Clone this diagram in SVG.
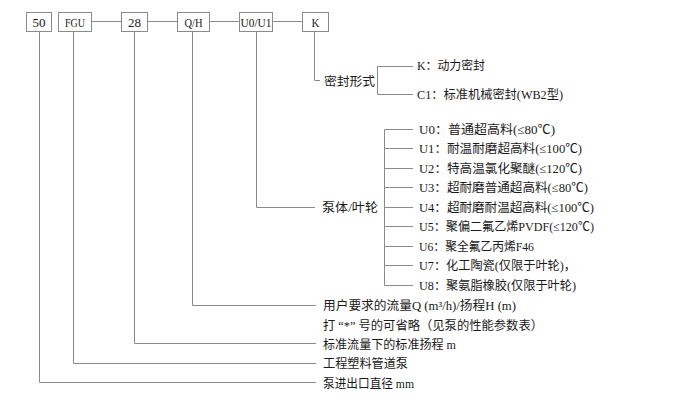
<svg xmlns="http://www.w3.org/2000/svg" width="698" height="405" viewBox="0 0 698 405">
<style>
.bx rect{fill:#fff;stroke:#8a8a8a;stroke-width:1}
text{font-family:"Liberation Serif","Noto Sans CJK SC",serif;font-size:12.5px;fill:#1a1a1a}
.bx text{font-size:13.5px}
.c{text-anchor:middle}
.ln{fill:none;stroke:#8a8a8a;stroke-width:1}
</style>
<rect width="698" height="405" fill="#fff"/>
<g id="connectors" class="ln">
<path d="M91.5 21.5H121.5M147.5 21.5H177.5M209.5 21.5H239.5M272.5 21.5H302.5"/>
<path d="M39.5 31.5V382.5H316"/>
<path d="M73.5 31.5V363.5H316"/>
<path d="M134.5 31.5V343.5H316"/>
<path d="M192.5 31.5V305.5H316"/>
<path d="M256.5 31.5V207.5H315"/>
<path d="M314.5 31.5V80.5H320"/>
<path d="M413 66.5H377.5V94.5H413"/>
<path d="M413 129.5H384.5V285.5H413M384.5 148.5H413M384.5 168.5H413M384.5 187.5H413M384.5 207.5H413M384.5 226.5H413M384.5 246.5H413M384.5 265.5H413"/>
</g>
<g id="n50" class="bx"><rect x="26.5" y="12.5" width="25" height="19"/><text class="c" x="39" y="26.5" textLength="13" lengthAdjust="spacingAndGlyphs">50</text></g>
<g id="nFGU" class="bx"><rect x="58.5" y="12.5" width="33" height="19"/><text class="c" x="75" y="26.5" textLength="20" lengthAdjust="spacingAndGlyphs">FGU</text></g>
<g id="n28" class="bx"><rect x="121.5" y="12.5" width="26" height="19"/><text class="c" x="134.5" y="26.5" textLength="13" lengthAdjust="spacingAndGlyphs">28</text></g>
<g id="nQH" class="bx"><rect x="177.5" y="12.5" width="32" height="19"/><text class="c" x="193.5" y="26.5" textLength="18" lengthAdjust="spacingAndGlyphs">Q/H</text></g>
<g id="nU0U1" class="bx"><rect x="239.5" y="12.5" width="33" height="19"/><text class="c" x="256" y="26.5" textLength="31" lengthAdjust="spacingAndGlyphs">U0/U1</text></g>
<g id="nK" class="bx"><rect x="302.5" y="12.5" width="26" height="19"/><text class="c" x="315.5" y="26.5" textLength="8" lengthAdjust="spacingAndGlyphs">K</text></g>
<g id="seal">
<text x="324" y="85.5" textLength="51" lengthAdjust="spacingAndGlyphs">密封形式</text>
<text x="417" y="70" textLength="68" lengthAdjust="spacingAndGlyphs">K：动力密封</text>
<text x="417" y="98.5" textLength="146" lengthAdjust="spacingAndGlyphs">C1：标准机械密封(WB2型)</text>
</g>
<g id="material">
<text x="322" y="212" textLength="56" lengthAdjust="spacingAndGlyphs">泵体/叶轮</text>
<text x="419" y="133.5" textLength="136" lengthAdjust="spacingAndGlyphs">U0：普通超高料(≤80℃)</text>
<text x="419" y="153" textLength="163" lengthAdjust="spacingAndGlyphs">U1：耐温耐磨超高料(≤100℃)</text>
<text x="419" y="172.5" textLength="163" lengthAdjust="spacingAndGlyphs">U2：特高温氯化聚醚(≤120℃)</text>
<text x="419" y="192" textLength="169" lengthAdjust="spacingAndGlyphs">U3：超耐磨普通超高料(≤80℃)</text>
<text x="419" y="211.5" textLength="175" lengthAdjust="spacingAndGlyphs">U4：超耐磨耐温超高料(≤100℃)</text>
<text x="419" y="231" textLength="175" lengthAdjust="spacingAndGlyphs">U5：聚偏二氟乙烯PVDF(≤120℃)</text>
<text x="419" y="250.5" textLength="115" lengthAdjust="spacingAndGlyphs">U6：聚全氟乙丙烯F46</text>
<text x="419" y="270" textLength="157" lengthAdjust="spacingAndGlyphs">U7：化工陶瓷(仅限于叶轮)，</text>
<text x="419" y="289.5" textLength="157" lengthAdjust="spacingAndGlyphs">U8：聚氨脂橡胶(仅限于叶轮)</text>
</g>
<g id="bottom">
<text x="323" y="310" textLength="193" lengthAdjust="spacingAndGlyphs">用户要求的流量Q (m³/h)/扬程H (m)</text>
<text x="323" y="329.5" textLength="220" lengthAdjust="spacingAndGlyphs">打 “*” 号的可省略（见泵的性能参数表）</text>
<text x="323" y="348.5" textLength="133" lengthAdjust="spacingAndGlyphs">标准流量下的标准扬程 m</text>
<text x="323" y="368" textLength="85" lengthAdjust="spacingAndGlyphs">工程塑料管道泵</text>
<text x="323" y="387.5" textLength="91" lengthAdjust="spacingAndGlyphs">泵进出口直径 mm</text>
</g>
</svg>
